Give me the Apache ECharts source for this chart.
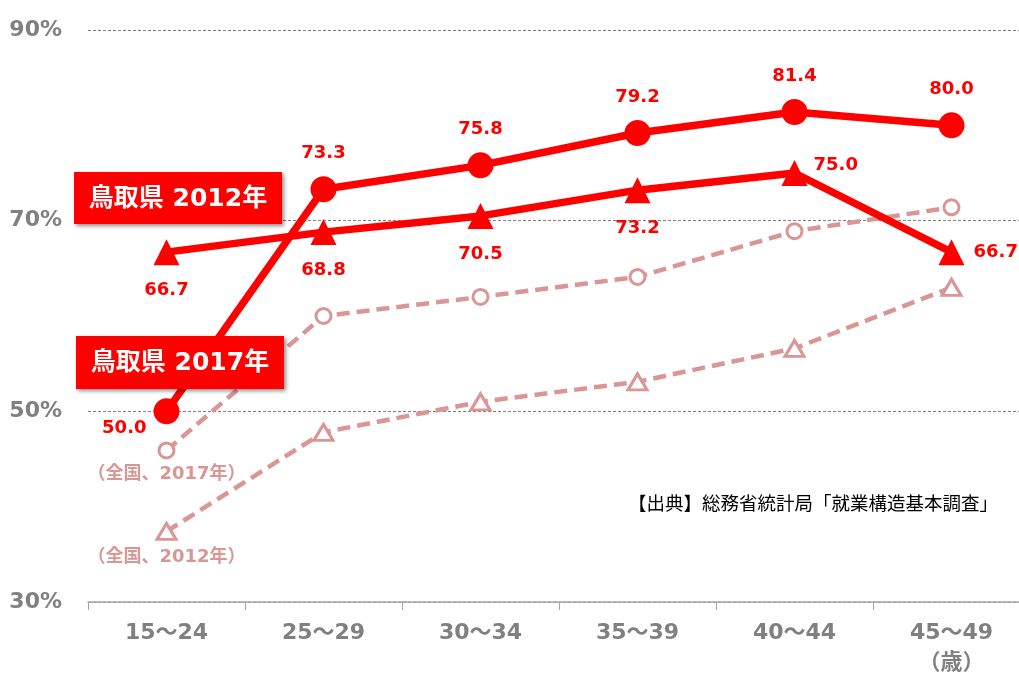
<!DOCTYPE html>
<html><head><meta charset="utf-8">
<script src="https://cdn.jsdelivr.net/npm/echarts@6/dist/echarts.min.js"></script>
<style>html,body{margin:0;padding:0;background:#fff}#c{width:1019px;height:673px}</style>
</head><body><div id="c"></div>
<script>
const categories = ['15〜24','25〜29','30〜34','35〜39','40〜44','45〜49'];
const tottori2017 = [50.0, 73.3, 75.8, 79.2, 81.4, 80.0];
const tottori2012 = [66.7, 68.8, 70.5, 73.2, 75.0, 66.7];
const national2017 = [45.9, 60.0, 62.0, 64.1, 68.9, 71.4];
const national2012 = [37.4, 47.8, 51.0, 53.1, 56.6, 63.0];
const yTicks = [30, 50, 70, 90];
const unitLabel = '（歳）';
const boxLabel2012 = '鳥取県 2012年';
const boxLabel2017 = '鳥取県 2017年';
const natLabel2017 = '（全国、2017年）';
const natLabel2012 = '（全国、2012年）';
const sourceText = '【出典】総務省統計局「就業構造基本調査」';

const RED = '#FF0000', PINK = '#D99694', GRAY = '#808080';
const NUMFONT = '"DejaVu Sans", "Noto Sans CJK JP", sans-serif';

const chart = echarts.init(document.getElementById('c'), null, {renderer:'canvas'});

const redLabel = {show:true, color:RED, fontWeight:'bold', fontSize:18, fontFamily:NUMFONT, formatter: p => p.value.toFixed(1)};

const d2017 = tottori2017.map((v,i) => {
  if (i === 0) return {value:v, label:{position:'left', distance:7, offset:[0,17]}};
  return v;
});
const d2012 = tottori2012.map((v,i) => {
  if (i === 4) return {value:v, label:{position:'right', distance:6, offset:[0,-8]}};
  if (i === 5) return {value:v, label:{position:'right', distance:9}};
  return v;
});
const n2017 = national2017.map((v,i) => i===0 ? {value:v, label:{show:true, position:'bottom', distance:6, formatter:natLabel2017}} : v);
const n2012 = national2012.map((v,i) => i===0 ? {value:v, label:{show:true, position:'bottom', distance:7, formatter:natLabel2012}} : v);

const natLabelStyle = {show:false, color:PINK, fontWeight:'bold', fontSize:18, fontFamily:NUMFONT};

function box(x,y,w,h,text){
  return {type:'group', z:100, children:[
    {type:'rect', z:100, shape:{x:x,y:y,width:w,height:h}, style:{fill:RED, shadowBlur:4, shadowOffsetX:2, shadowOffsetY:2, shadowColor:'rgba(0,0,0,0.45)'}},
    {type:'text', z:101, x:x+w/2, y:y+h/2+1, style:{text:text, fill:'#fff', font:'bold 25px "DejaVu Sans", "Noto Sans CJK JP", sans-serif', align:'center', verticalAlign:'middle'}}
  ]};
}

chart.setOption({
  animation:false,
  grid:{left:88, top:30, width:942, height:572, containLabel:false, outerBoundsMode:'none'},
  xAxis:{type:'category', data:categories, boundaryGap:true,
    axisLine:{lineStyle:{color:'#A6A6A6', width:1.5}},
    axisTick:{show:true, length:8, lineStyle:{color:'#A6A6A6'}},
    axisLabel:{color:GRAY, fontWeight:'bold', fontSize:22, fontFamily:NUMFONT, margin:16, lineHeight:30,
      formatter:(v,i) => i === categories.length-1 ? v + '\n' + unitLabel : v}
  },
  yAxis:{type:'value', min:yTicks[0], max:yTicks[yTicks.length-1], interval:20,
    axisLine:{show:false}, axisTick:{show:false},
    axisLabel:{color:GRAY, fontWeight:'bold', fontSize:22, fontFamily:NUMFONT, margin:26, formatter:'{value}%'},
    splitLine:{show:true, lineStyle:{color:'#808080', type:[3,2], width:1}}
  },
  series:[
    {name:'全国2012', type:'line', data:n2012, symbol:'triangle', symbolSize:[19,16],
      lineStyle:{color:PINK, width:4.5, type:[13,7]}, itemStyle:{color:'#fff', borderColor:PINK, borderWidth:3},
      label:natLabelStyle, z:2},
    {name:'全国2017', type:'line', data:n2017, symbol:'circle', symbolSize:15,
      lineStyle:{color:PINK, width:4.5, type:[13,7]}, itemStyle:{color:'#fff', borderColor:PINK, borderWidth:3},
      label:natLabelStyle, z:2},
    {name:'鳥取県2012', type:'line', data:d2012, symbol:'triangle', symbolSize:26,
      lineStyle:{color:RED, width:7.5}, itemStyle:{color:RED},
      label:Object.assign({}, redLabel, {position:'bottom', distance:16}), z:3},
    {name:'鳥取県2017', type:'line', data:d2017, symbol:'circle', symbolSize:26,
      lineStyle:{color:RED, width:7.5}, itemStyle:{color:RED},
      label:Object.assign({}, redLabel, {position:'top', distance:14}), z:4}
  ],
  graphic:[
    box(74,172,208,52,boxLabel2012),
    box(76,336,208,53,boxLabel2017),
    {type:'text', z:100, x:998, y:503, style:{text:sourceText, fill:'#000', font:'18.5px "Noto Sans CJK JP", sans-serif', align:'right', verticalAlign:'middle'}}
  ]
});
</script></body></html>
